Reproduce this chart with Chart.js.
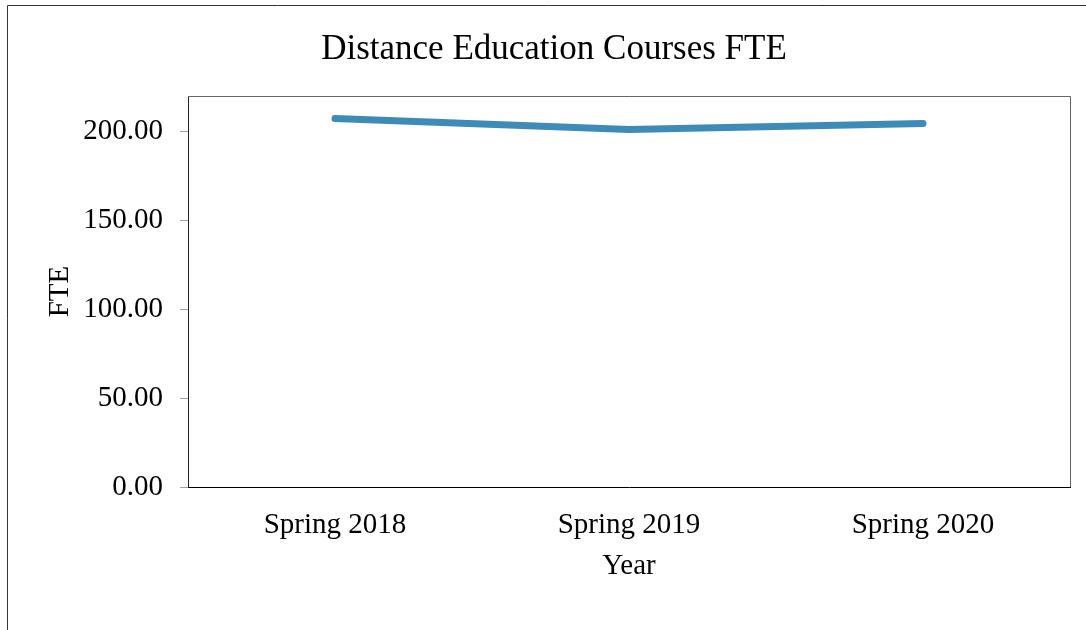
<!DOCTYPE html>
<html>
<head>
<meta charset="utf-8">
<script src="https://cdn.jsdelivr.net/npm/chart.js@4/dist/chart.umd.min.js"></script>
<style>
  html, body { margin: 0; padding: 0; background: #fff; }
  #wrap { width: 1086px; height: 630px; }
</style>
</head>
<body>
<div id="wrap"><canvas id="fteChart" width="1086" height="630"></canvas></div>
<script>
const categories = ['Spring 2018', 'Spring 2019', 'Spring 2020'];
const fteValues = [207.3, 201.1, 204.5];
const yTicks = [0, 50, 100, 150, 200];

const serif = '"Liberation Serif", "Times New Roman", serif';

// outer chart frame + gray plot border (top/right)
const framePlugin = {
  id: 'frame',
  beforeDraw(chart) {
    const ctx = chart.ctx;
    ctx.save();
    ctx.fillStyle = '#fff';
    ctx.fillRect(0, 0, chart.width, chart.height);
    ctx.strokeStyle = '#333';
    ctx.lineWidth = 1;
    ctx.beginPath();
    ctx.moveTo(7.5, chart.height + 2);
    ctx.lineTo(7.5, 5.5);
    ctx.lineTo(chart.width + 2, 5.5);
    ctx.stroke();
    ctx.restore();
  },
  afterDatasetsDraw(chart) {
    const { ctx, chartArea: a } = chart;
    ctx.save();
    ctx.strokeStyle = '#666';
    ctx.lineWidth = 1;
    ctx.beginPath();
    ctx.moveTo(a.left, a.top + 0.5);
    ctx.lineTo(a.right + 0.5, a.top + 0.5);
    ctx.lineTo(a.right + 0.5, a.bottom);
    ctx.stroke();
    ctx.restore();
  }
};

new Chart(document.getElementById('fteChart').getContext('2d'), {
  type: 'line',
  data: {
    labels: categories,
    datasets: [{
      label: 'FTE',
      data: fteValues,
      borderColor: '#3F8BB8',
      borderWidth: 7,
      borderCapStyle: 'round',
      borderJoinStyle: 'round',
      pointRadius: 0,
      tension: 0,
      fill: false
    }]
  },
  options: {
    responsive: false,
    animation: false,
    layout: { padding: { left: 38, right: 16, top: 0, bottom: 0 } },
    plugins: {
      legend: { display: false },
      tooltip: { enabled: false },
      title: {
        display: true,
        text: 'Distance Education Courses FTE',
        color: '#000',
        font: { family: serif, size: 35, weight: 'normal' },
        padding: { top: 29, bottom: 25 }
      }
    },
    scales: {
      x: {
        offset: true,
        grid: { display: false, drawTicks: false },
        border: { display: true, color: '#000', width: 1 },
        ticks: { color: '#000', padding: 21, font: { family: serif, size: 29 } },
        title: {
          display: true,
          text: 'Year',
          color: '#000',
          font: { family: serif, size: 29 },
          padding: { top: 0, bottom: 46 }
        },
        afterFit(scale) { scale.height = 143; }
      },
      y: {
        min: 0,
        max: 220,
        grid: { drawOnChartArea: false, drawTicks: true, tickLength: 8, tickColor: '#a0a0a0' },
        border: { display: true, color: '#222', width: 1 },
        ticks: {
          color: '#000',
          padding: 17,
          stepSize: 50,
          font: { family: serif, size: 29 },
          callback: v => v.toFixed(2)
        },
        afterBuildTicks(scale) {
          scale.ticks = yTicks.map(v => ({ value: v }));
        },
        title: {
          display: true,
          text: 'FTE',
          color: '#000',
          font: { family: serif, size: 29 },
          padding: { top: 5, bottom: 0 }
        },
        afterFit(scale) { scale.width = 150; }
      }
    }
  },
  plugins: [framePlugin]
});
</script>
</body>
</html>
